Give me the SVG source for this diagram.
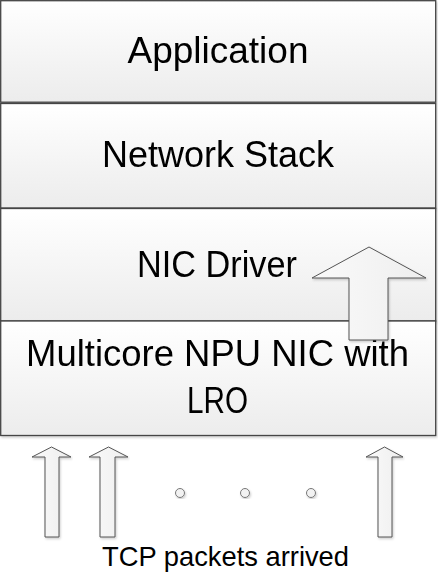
<svg xmlns="http://www.w3.org/2000/svg" width="438" height="575" viewBox="0 0 438 575">
<defs>
  <linearGradient id="boxfill" x1="0" y1="0" x2="0" y2="1">
    <stop offset="0" stop-color="#ffffff"/>
    <stop offset="1" stop-color="#ececec"/>
  </linearGradient>
  <linearGradient id="arrowfill" x1="0" y1="0" x2="1" y2="0">
    <stop offset="0" stop-color="#fafafa"/>
    <stop offset="1" stop-color="#eeeeee"/>
  </linearGradient>
  <filter id="shadow" x="-5%" y="-5%" width="110%" height="115%">
    <feDropShadow dx="1" dy="1.5" stdDeviation="1" flood-color="#000" flood-opacity="0.2"/>
  </filter>
</defs>
<style>
  .box { fill: url(#boxfill); stroke: #444444; stroke-width: 1.3; }
  .lbl { font-family: "Liberation Sans", Arial, sans-serif; font-size: 36px; fill: #000; text-anchor: middle; }
  .cap { font-family: "Liberation Sans", Arial, sans-serif; font-size: 28px; fill: #000; text-anchor: middle; }
  .arrow { fill: url(#arrowfill); stroke: #555555; stroke-width: 1; stroke-linejoin: miter; }
  .dot { fill: #f2f2f2; stroke: #777777; stroke-width: 1; }
</style>
<rect width="438" height="575" fill="#ffffff"/>

<g id="application" filter="url(#shadow)">
  <rect class="box" x="0.7" y="0.7" width="435" height="101.5"/>
  <text class="lbl" x="218" y="63" textLength="181" lengthAdjust="spacingAndGlyphs">Application</text>
</g>
<g id="network-stack" filter="url(#shadow)">
  <rect class="box" x="0.7" y="103.5" width="435" height="104.5"/>
  <text class="lbl" x="218" y="167" textLength="232" lengthAdjust="spacingAndGlyphs">Network Stack</text>
</g>
<g id="nic-driver" filter="url(#shadow)">
  <rect class="box" x="0.7" y="208.5" width="435" height="112.5"/>
  <text class="lbl" x="217" y="277" textLength="160" lengthAdjust="spacingAndGlyphs">NIC Driver</text>
</g>
<g id="npu-nic" filter="url(#shadow)">
  <rect class="box" x="0.7" y="321" width="435" height="114.5"/>
  <text class="lbl" x="217.5" y="366" textLength="383" lengthAdjust="spacingAndGlyphs">Multicore NPU NIC with</text>
  <text class="lbl" x="217.5" y="413" textLength="61" lengthAdjust="spacingAndGlyphs">LRO</text>
</g>

<g id="connectors">
  <polygon id="lro-arrow" class="arrow" filter="url(#shadow)" points="369,247 426,278 388,278 388,340 349,340 349,278 312,278"/>
  <polygon id="pkt-arrow-1" class="arrow" filter="url(#shadow)" points="51.5,447 71,457 59,457 59,537 45,537 45,457 32,457"/>
  <polygon id="pkt-arrow-2" class="arrow" filter="url(#shadow)" points="108.5,447 128,457 115,457 115,537 100,537 100,457 89,457"/>
  <polygon id="pkt-arrow-3" class="arrow" filter="url(#shadow)" points="384.5,447 403,457 392,457 392,537 378,537 378,457 366,457"/>
</g>

<g id="ellipsis" filter="url(#shadow)">
  <circle class="dot" cx="180" cy="493" r="4.5"/>
  <circle class="dot" cx="245" cy="493" r="4.5"/>
  <circle class="dot" cx="311" cy="493" r="4.5"/>
</g>

<g id="caption">
  <text class="cap" x="225.5" y="566" textLength="247" lengthAdjust="spacingAndGlyphs">TCP packets arrived</text>
</g>
</svg>
